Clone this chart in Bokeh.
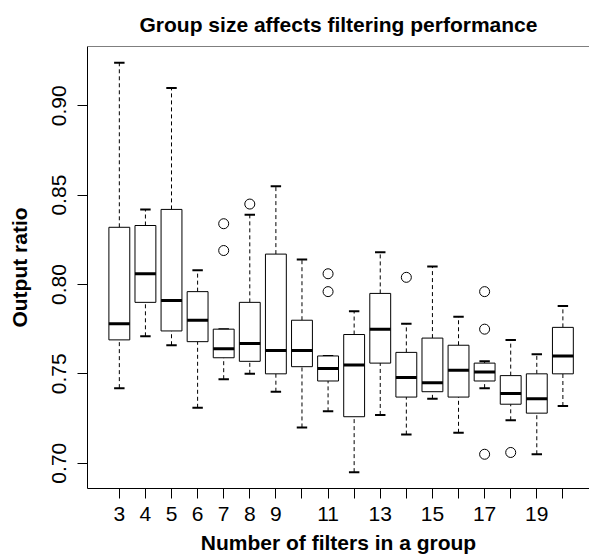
from bokeh.plotting import figure
from bokeh.models import (ColumnDataSource, FixedTicker, PrintfTickFormatter, Span, Range1d, Title)
from bokeh.embed import file_html
from bokeh.resources import INLINE

# ---- data ----
groups = [3, 4, 5, 6, 7, 8, 9, 10, 11, 12, 13, 14, 15, 16, 17, 18, 19, 20]
tick_labels = ["3", "4", "5", "6", "7", "8", "9", "", "11", "", "13", "", "15", "", "17", "", "19", ""]
lower_whisker = [0.742, 0.771, 0.766, 0.731, 0.747, 0.750, 0.740, 0.720, 0.729, 0.695, 0.727, 0.716, 0.736, 0.717, 0.742, 0.724, 0.705, 0.732]
q1 = [0.769, 0.790, 0.774, 0.768, 0.759, 0.757, 0.750, 0.754, 0.746, 0.726, 0.756, 0.737, 0.740, 0.737, 0.746, 0.733, 0.728, 0.750]
median = [0.778, 0.806, 0.791, 0.780, 0.764, 0.767, 0.763, 0.763, 0.753, 0.755, 0.775, 0.748, 0.745, 0.752, 0.751, 0.739, 0.736, 0.760]
q3 = [0.832, 0.833, 0.842, 0.796, 0.775, 0.790, 0.817, 0.780, 0.760, 0.772, 0.795, 0.762, 0.770, 0.766, 0.756, 0.749, 0.750, 0.776]
upper_whisker = [0.924, 0.842, 0.910, 0.808, 0.775, 0.839, 0.855, 0.814, 0.760, 0.785, 0.818, 0.778, 0.810, 0.782, 0.757, 0.769, 0.761, 0.788]
outlier_group = [7, 7, 8, 11, 11, 14, 17, 17, 17, 18]
outlier_value = [0.834, 0.819, 0.845, 0.806, 0.796, 0.804, 0.796, 0.775, 0.705, 0.706]
y_ticks = [0.70, 0.75, 0.80, 0.85, 0.90]

title = "Group size affects filtering performance"
xlabel = "Number of filters in a group"
ylabel = "Output ratio"

FONT = "Liberation Sans"
FS = "21px"

pos = list(range(1, len(groups) + 1))
pos_of = {g: i + 1 for i, g in enumerate(groups)}
box_w = 0.8
staple_w = 0.4

ymin = min(lower_whisker + outlier_value)
ymax = max(upper_whisker + outlier_value)
yext = 0.04 * (ymax - ymin)
y_lo, y_hi = ymin - yext, ymax + yext

p = figure(width=589, height=558, output_backend="svg", toolbar_location=None,
           x_range=Range1d(-0.22, 19.02), y_range=Range1d(y_lo, y_hi),
           min_border_left=87, min_border_right=0, min_border_top=46, min_border_bottom=69)
p.background_fill_color = "white"
p.border_fill_color = "white"
p.outline_line_color = None
p.xgrid.visible = False
p.ygrid.visible = False

src = ColumnDataSource(dict(
    x=pos,
    lw=lower_whisker, q1=q1, med=median, q3=q3, uw=upper_whisker,
    left=[x - box_w / 2 for x in pos], right=[x + box_w / 2 for x in pos],
    sl=[x - staple_w / 2 for x in pos], sr=[x + staple_w / 2 for x in pos],
))

# whiskers (dashed)
p.segment(x0="x", y0="q3", x1="x", y1="uw", source=src, line_color="black", line_width=1, line_dash="4 3")
p.segment(x0="x", y0="lw", x1="x", y1="q1", source=src, line_color="black", line_width=1, line_dash="4 3")
# staples
p.segment(x0="sl", y0="uw", x1="sr", y1="uw", source=src, line_color="black", line_width=2)
p.segment(x0="sl", y0="lw", x1="sr", y1="lw", source=src, line_color="black", line_width=2)
# boxes
p.quad(left="left", right="right", bottom="q1", top="q3", source=src,
       fill_color="white", line_color="black", line_width=1)
# medians
p.segment(x0="left", y0="med", x1="right", y1="med", source=src, line_color="black", line_width=3)
# outliers
osrc = ColumnDataSource(dict(x=[pos_of[g] for g in outlier_group], y=outlier_value))
p.scatter(x="x", y="y", source=osrc, marker="circle", size=10, fill_color=None,
          line_color="black", line_width=1)

# top frame line
p.add_layout(Span(location=y_hi, dimension="width", line_color="black", line_width=1))

# axes
p.xaxis.ticker = FixedTicker(ticks=pos)
p.xaxis.major_label_overrides = {x: lab for x, lab in zip(pos, tick_labels)}
p.yaxis.ticker = FixedTicker(ticks=y_ticks)
p.yaxis.formatter = PrintfTickFormatter(format="%.2f")
p.yaxis.major_label_orientation = "vertical"
for ax in (p.xaxis[0], p.yaxis[0]):
    ax.minor_tick_line_color = None
    ax.major_tick_out = 10
    ax.major_tick_in = 0
    ax.axis_line_color = "black"
    ax.major_tick_line_color = "black"
    ax.major_label_text_font = FONT
    ax.major_label_text_font_size = FS
    ax.major_label_text_color = "black"
p.xaxis.major_label_standoff = 8
p.yaxis.major_label_standoff = 11

p.yaxis.axis_label = ylabel
p.yaxis.axis_label_text_font = FONT
p.yaxis.axis_label_text_font_size = FS
p.yaxis.axis_label_text_font_style = "bold"
p.yaxis.axis_label_text_color = "black"
p.yaxis.axis_label_standoff = 19

# title and x axis title
p.add_layout(Title(text=title, align="center", offset=2, standoff=21, text_font=FONT,
                   text_font_size=FS, text_font_style="bold", text_color="black"), "above")
p.add_layout(Title(text=xlabel, align="center", offset=3, standoff=10, text_font=FONT,
                   text_font_size=FS, text_font_style="bold", text_color="black"), "below")

open("out.html", "w").write(file_html(p, INLINE))
